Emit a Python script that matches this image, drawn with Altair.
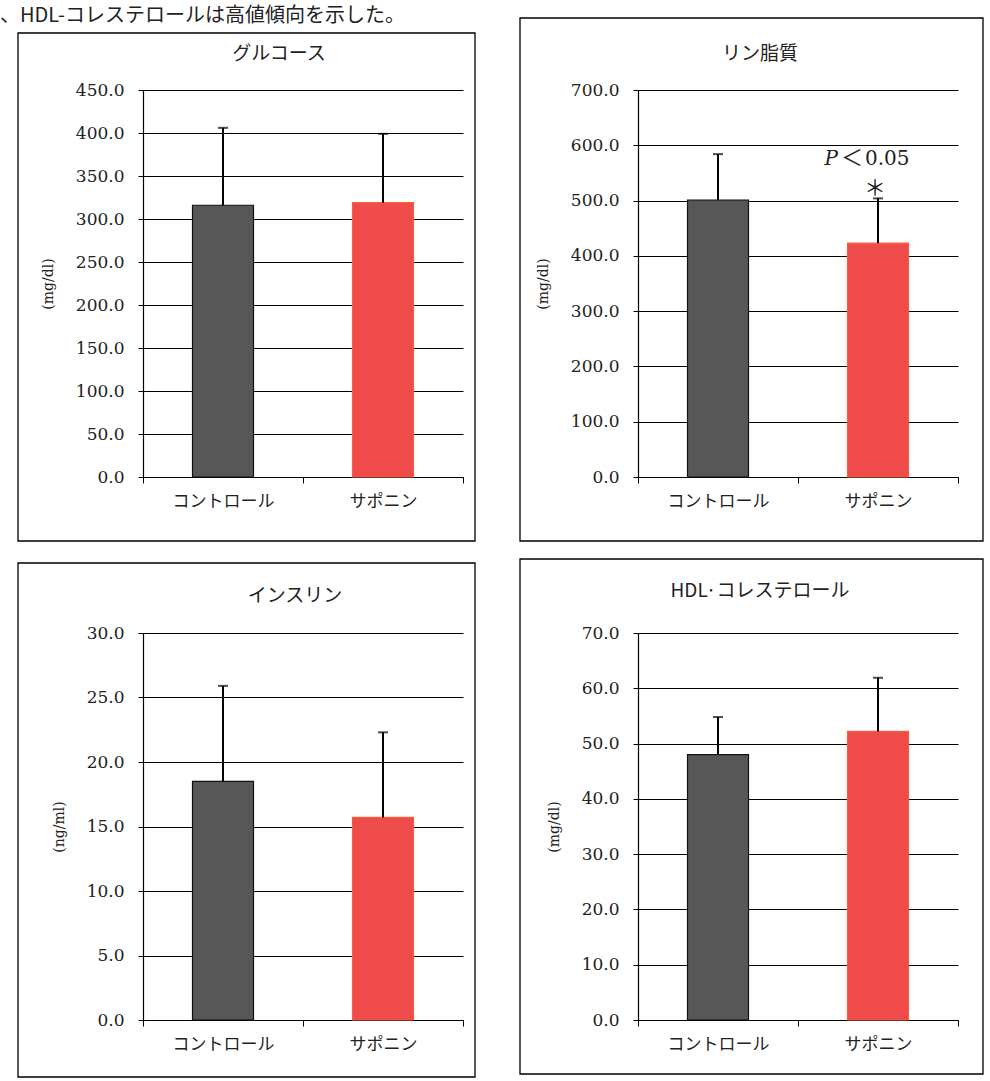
import altair as alt
import pandas as pd

# ---------------- data ----------------
groups = ["コントロール", "サポニン"]
bar_colors = ["#575757", "#EF4B4B"]
edge_colors = ["#111111", "#F2603F"]

panel_titles = ["グルコース", "リン脂質", "インスリン", "HDL·コレステロール"]
y_units = ["(mg/dl)", "(mg/dl)", "(ng/ml)", "(mg/dl)"]

glucose_mean = [316.0, 319.0]
glucose_sd = [90.0, 80.0]
phospholipid_mean = [501.0, 423.0]
phospholipid_sd = [83.0, 81.0]
insulin_mean = [18.5, 15.7]
insulin_sd = [7.4, 6.6]
hdl_mean = [48.0, 52.2]
hdl_sd = [6.8, 9.7]

y_max = [450, 700, 30, 70]
y_step = [50, 100, 5, 10]

sig_text_p = "P"
sig_text_lt = "＜"
sig_text_val = "0.05"
sig_star = "＊"
sig_group = "サポニン"
sig_text_y = 575.0
sig_star_y = 522.0

header_text = "、HDL-コレステロールは高値傾向を示した。"

# ---------------- layout ----------------
W, H = 320, 387
JP = "Noto Sans CJK JP"
SERIF = "DejaVu Serif"

title_x = [136, 122, 152, 122]
title_y = [-36, -36, -37, -42]
frame_x = [(-125, W + 12), (-118, W + 25), (-125, W + 12), (-118, W + 25)]
frame_y = [(-57, H + 64), (-72, H + 64), (-70, H + 57), (-74, H + 54)]


def panel(i, means, sds, extra=None):
    df = pd.DataFrame({
        "group": groups,
        "mean": means,
        "top": [m + s for m, s in zip(means, sds)],
    })
    base = alt.Chart(df)
    ticks = [k * y_step[i] for k in range(int(round(y_max[i] / y_step[i])) + 1)]
    yscale = alt.Scale(domain=[0, y_max[i]], nice=False, zero=True)
    xenc = alt.X(
        "group:N",
        sort=groups,
        scale=alt.Scale(domain=groups, paddingInner=0, paddingOuter=0),
        axis=alt.Axis(
            title=None, labelAngle=0, tickBand="extent", ticks=True, tickSize=6,
            tickColor="black", domainColor="black", domainWidth=1.2, grid=False,
            labelFont=JP, labelFontSize=17, labelColor="#222222", labelPadding=10,
        ),
    )
    yenc = alt.Y(
        "mean:Q",
        scale=yscale,
        axis=alt.Axis(
            title=y_units[i], titleFont=SERIF, titleFontSize=14, titleFontWeight="normal",
            titleColor="#222222", titlePadding=20,
            values=ticks, format=".1f", labelFont=SERIF, labelFontSize=17,
            labelColor="#222222", labelPadding=14, tickSize=5, tickColor="black",
            domainColor="black", domainWidth=1.2, grid=True, gridColor="black",
            gridWidth=1,
        ),
    )
    one = alt.Chart(pd.DataFrame({"k": [0]}))
    fx, fy = frame_x[i], frame_y[i]
    frame = one.mark_rect(fillOpacity=0, stroke="black", strokeWidth=1.3).encode(
        x=alt.value(fx[0]), x2=alt.value(fx[1]), y=alt.value(fy[0]), y2=alt.value(fy[1])
    )
    title = one.mark_text(font=JP, fontSize=19, color="#222222", baseline="middle", align="center").encode(
        x=alt.value(title_x[i]), y=alt.value(title_y[i]), text=alt.value(panel_titles[i])
    )
    bars = base.mark_bar(size=61, strokeWidth=1.2).encode(
        x=xenc,
        y=yenc,
        color=alt.Color("group:N", scale=alt.Scale(domain=groups, range=bar_colors), legend=None),
        stroke=alt.Stroke("group:N", scale=alt.Scale(domain=groups, range=edge_colors), legend=None),
    )
    err = base.mark_rule(color="black", strokeWidth=2).encode(
        x=alt.X("group:N", sort=groups), y=alt.Y("mean:Q", scale=yscale), y2="top:Q"
    )
    cap = base.mark_tick(color="black", thickness=2, size=10).encode(
        x=alt.X("group:N", sort=groups), y=alt.Y("top:Q", scale=yscale)
    )
    layers = [frame, title, bars, err, cap]
    if extra is not None:
        layers += extra
    return alt.layer(*layers).properties(width=W, height=H)


sig_df = pd.DataFrame({"group": [sig_group], "ty": [sig_text_y], "sy": [sig_star_y]})
sig_base = alt.Chart(sig_df)
sig_scale = alt.Scale(domain=[0, 700], nice=False)
sig_x = alt.X("group:N", sort=groups)
p_txt = sig_base.mark_text(font=SERIF, fontSize=20, fontStyle="italic", align="right",
                           baseline="middle", dx=-40, color="#222222").encode(
    x=sig_x, y=alt.Y("ty:Q", scale=sig_scale), text=alt.value(sig_text_p))
lt_txt = sig_base.mark_text(font=JP, fontSize=22, align="center", baseline="middle",
                            dx=-26, dy=-1, color="#222222").encode(
    x=sig_x, y=alt.Y("ty:Q", scale=sig_scale), text=alt.value(sig_text_lt))
val_txt = sig_base.mark_text(font=SERIF, fontSize=20, align="left", baseline="middle",
                             dx=-13, color="#222222").encode(
    x=sig_x, y=alt.Y("ty:Q", scale=sig_scale), text=alt.value(sig_text_val))
star_txt = sig_base.mark_text(font=JP, fontSize=22, align="center", baseline="middle",
                              dx=-3, color="#222222").encode(
    x=sig_x, y=alt.Y("sy:Q", scale=sig_scale), text=alt.value(sig_star))

header = alt.Chart(pd.DataFrame({"k": [0]})).mark_text(
    font=JP, fontSize=20, align="left", baseline="middle", color="#222222"
).encode(x=alt.value(-143), y=alt.value(-74), text=alt.value(header_text))

p1 = panel(0, glucose_mean, glucose_sd, extra=[header])
p2 = panel(1, phospholipid_mean, phospholipid_sd, extra=[p_txt, lt_txt, val_txt, star_txt])
p3 = panel(2, insulin_mean, insulin_sd)
p4 = panel(3, hdl_mean, hdl_sd)

chart = alt.concat(
    p1, p2, p3, p4, columns=2, spacing={"row": 156, "column": 175}, bounds="flush"
).properties(
    padding={"left": 0, "top": 6, "right": 0, "bottom": 0},
    background="white",
).configure_view(strokeWidth=0)

chart.save("out.html", embed_options={"renderer": "svg", "actions": False})
